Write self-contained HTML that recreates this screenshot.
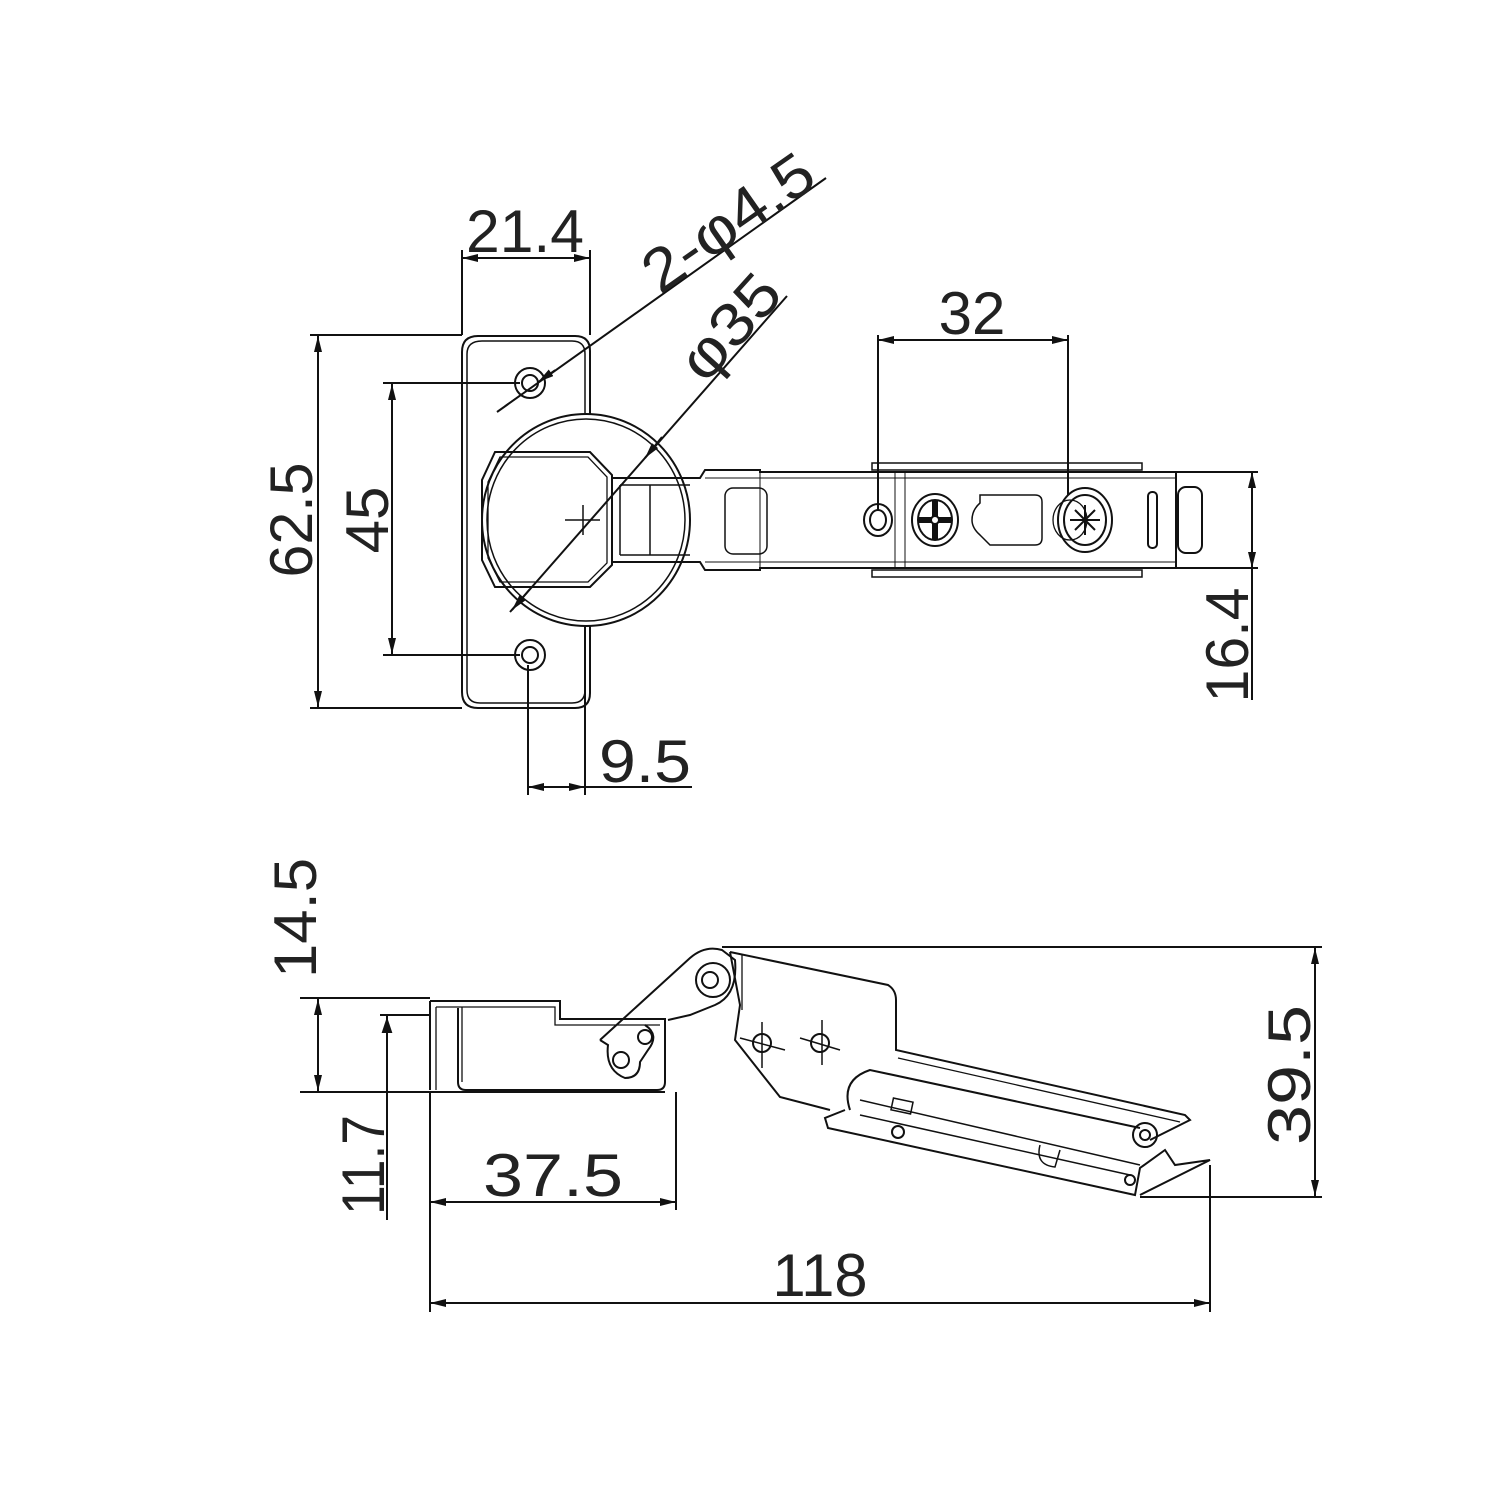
<!DOCTYPE html>
<html><head><meta charset="utf-8"><style>
html,body{margin:0;padding:0;background:#fff;}
svg{display:block;}
text{font-family:"Liberation Sans",sans-serif;fill:#222;font-size:60px;}
</style></head><body>
<svg width="1500" height="1500" viewBox="0 0 1500 1500" xmlns="http://www.w3.org/2000/svg">
<defs>
<marker id="a" viewBox="0 0 12 6" refX="12" refY="3" markerWidth="16" markerHeight="8" orient="auto-start-reverse" markerUnits="userSpaceOnUse"><path d="M0,0 L12,3 L0,6 z" fill="#111"/></marker>
</defs>
<g stroke="#111" stroke-width="2" fill="none">
<!-- TOP VIEW plate -->
<path d="M590,625 V693 Q590,708 575,708 H478 Q462,708 462,692 V352 Q462,336 478,336 H575 Q590,336 590,351 V415"/>
<path d="M585,625 V690 Q585,703 572,703 H480 Q467,703 467,690 V354 Q467,341 482,341 H572 Q585,341 585,354 V415" stroke-width="1.5"/>
<circle cx="530" cy="383" r="15"/><circle cx="530" cy="383" r="8"/>
<circle cx="530" cy="655" r="15"/><circle cx="530" cy="655" r="8"/>
<ellipse cx="586" cy="520" rx="104" ry="106" fill="#fff"/>
<ellipse cx="586" cy="520" rx="99" ry="101" stroke-width="1.5"/>
<path d="M495,452 H590 L612,475 V565 L590,587 H495 L482,560 V480 Z"/>
<path d="M500,457 H588 L607,477 V563 L588,582 H500 L488,558 V482 Z" stroke-width="1.3"/>
<path d="M565,520 H600 M583,505 V535" stroke-width="1.5"/>
<!-- arm -->
<path d="M612,478 H700 L705,470 H760 V472 H1176 V568 H760 V570 H705 L700,562 H612 Z"/>
<path d="M620,485 H690 M620,555 H690 M620,485 V555 M650,485 V555" stroke-width="1.5"/>
<path d="M705,478 H1176 M705,562 H1176 M760,472 V568 M895,472 V568 M905,472 V568" stroke-width="1"/>
<rect x="725" y="488" width="42" height="66" rx="8" stroke-width="1.5"/>
<rect x="872" y="463" width="270" height="7" stroke-width="1.5"/>
<rect x="872" y="570" width="270" height="7" stroke-width="1.5"/>
<rect x="1178" y="487" width="24" height="66" rx="8"/>
<ellipse cx="878" cy="520" rx="14" ry="16"/><ellipse cx="878" cy="520" rx="8" ry="10"/>
<ellipse cx="935" cy="520" rx="23" ry="26"/><ellipse cx="935" cy="520" rx="17" ry="20"/>
<path d="M918,520 H952 M935,500 V540" stroke-width="6"/>
<circle cx="935" cy="520" r="4" fill="#fff"/>
<path d="M980,495 H1035 Q1042,495 1042,502 V538 Q1042,545 1035,545 H990 L980,535 Q972,528 972,520 Q972,510 980,503 Z" stroke-width="1.5"/>
<ellipse cx="1085" cy="520" rx="27" ry="32"/><ellipse cx="1085" cy="520" rx="21" ry="25"/>
<ellipse cx="1070" cy="520" rx="17" ry="20" stroke-width="1.3"/>
<path d="M1070,520 H1100 M1085,505 V535 M1075,510 L1095,530 M1095,510 L1075,530" stroke-width="2"/>
<rect x="1148" y="492" width="9" height="56" rx="4"/>
<!-- dims top -->
<path d="M462,335 V250 M590,335 V250"/>
<line x1="462" y1="258" x2="590" y2="258" marker-start="url(#a)" marker-end="url(#a)"/>
<path d="M310,335 H462 M310,708 H462"/>
<line x1="318" y1="336" x2="318" y2="707" marker-start="url(#a)" marker-end="url(#a)"/>
<path d="M383,383 H520 M383,655 H520"/>
<line x1="392" y1="384" x2="392" y2="654" marker-start="url(#a)" marker-end="url(#a)"/>
<line x1="497" y1="412" x2="826" y2="178"/>
<path d="M505,406 L522,394 M555,370 L538,382" marker-end="url(#a)" stroke-width="1.5"/>
<line x1="510" y1="612" x2="787" y2="296"/>
<line x1="530" y1="589" x2="512" y2="610" marker-end="url(#a)"/>
<line x1="645" y1="458" x2="662" y2="437" marker-start="url(#a)"/>
<path d="M878,335 V510 M1068,335 V495"/>
<line x1="878" y1="340" x2="1068" y2="340" marker-start="url(#a)" marker-end="url(#a)"/>
<path d="M1176,472 H1258 M1176,568 H1258"/>
<line x1="1252" y1="472" x2="1252" y2="568" marker-start="url(#a)" marker-end="url(#a)"/>
<path d="M1252,568 V700"/>
<path d="M528,665 V795 M585,625 V795"/>
<line x1="528" y1="787" x2="585" y2="787" marker-start="url(#a)" marker-end="url(#a)"/>
<path d="M585,787 H692"/>

<!-- BOTTOM VIEW -->
<path d="M430,1001 H560 V1019 H665 V1082 Q665,1090 657,1090 H466 Q458,1090 458,1082 V1008 M430,1001 V1090"/>
<path d="M436,1007 H555 V1025 H660 M436,1007 V1090 M462,1007 V1082" stroke-width="1.3"/>
<path d="M300,998 H430 M300,1092 H665"/>
<line x1="318" y1="999" x2="318" y2="1091" marker-start="url(#a)" marker-end="url(#a)"/>
<path d="M380,1015 H430"/>
<line x1="387" y1="1016" x2="387" y2="1220"/>
<path d="M387,1020 L383,1032 L391,1032 Z" fill="#111"/>
<!-- link -->
<path d="M600,1040 L690,958 Q705,945 722,950 L735,960 Q738,995 715,1005 L690,1015 L668,1020 M600,1040 L608,1045 Q605,1070 625,1078 Q640,1078 640,1062 L648,1050 Q660,1035 645,1025"/>
<circle cx="621" cy="1060" r="8"/><circle cx="645" cy="1037" r="7"/>
<circle cx="713" cy="980" r="17"/><circle cx="710" cy="980" r="8"/>
<!-- arm body -->
<path d="M722,947 H1322"/>
<path d="M730,952 L888,985 Q896,990 896,1000 V1050 L1185,1115 L1190,1120 L1150,1140"/>
<path d="M730,952 L740,1005 L735,1040 L780,1097 L830,1110"/>
<path d="M742,955 V1010" stroke-width="1.3"/>
<path d="M898,1058 L1180,1122" stroke-width="1.3"/>
<path d="M850,1110 Q840,1080 870,1070 L1140,1128"/>
<path d="M845,1110 L825,1118 L828,1128 L1135,1195 L1140,1168 L1165,1150 L1175,1165 L1210,1160 L1140,1195"/>
<path d="M860,1100 L1140,1165 M860,1115 L1130,1175" stroke-width="1.5"/>
<rect x="892" y="1100" width="20" height="12" stroke-width="1.5" transform="rotate(12 902 1106)"/>
<circle cx="898" cy="1132" r="6"/>
<circle cx="1145" cy="1135" r="12"/><circle cx="1145" cy="1135" r="5"/>
<circle cx="1130" cy="1180" r="5"/>
<path d="M1040,1145 Q1035,1165 1055,1167 L1060,1150" stroke-width="1.5"/>
<circle cx="762" cy="1043" r="9"/><circle cx="820" cy="1043" r="9"/>
<path d="M740,1038 L785,1050 M762,1022 V1068 M800,1038 L840,1050 M822,1020 V1065" stroke-width="1.5"/>
<!-- bottom dims -->
<path d="M676,1092 V1210"/>
<line x1="430" y1="1202" x2="676" y2="1202" marker-start="url(#a)" marker-end="url(#a)"/>
<path d="M430,1092 V1312 M1210,1165 V1312"/>
<line x1="430" y1="1303" x2="1210" y2="1303" marker-start="url(#a)" marker-end="url(#a)"/>
<path d="M1140,1197 H1322"/>
<line x1="1315" y1="948" x2="1315" y2="1196" marker-start="url(#a)" marker-end="url(#a)"/>
</g>
<!-- labels -->
<text x="525" y="252" text-anchor="middle" textLength="118" lengthAdjust="spacingAndGlyphs">21.4</text>
<text transform="translate(312,520) rotate(-90)" text-anchor="middle" textLength="115" lengthAdjust="spacingAndGlyphs">62.5</text>
<text transform="translate(388,520) rotate(-90)" text-anchor="middle">45</text>
<text transform="translate(660,295) rotate(-35)" textLength="195" lengthAdjust="spacingAndGlyphs">2-φ4.5</text>
<text transform="translate(705,385) rotate(-48)" textLength="120" lengthAdjust="spacingAndGlyphs">φ35</text>
<text x="972" y="334" text-anchor="middle">32</text>
<text transform="translate(1248,645) rotate(-90)" text-anchor="middle" textLength="115" lengthAdjust="spacingAndGlyphs">16.4</text>
<text x="645" y="782" text-anchor="middle" textLength="92" lengthAdjust="spacingAndGlyphs">9.5</text>
<text transform="translate(316,918) rotate(-90)" text-anchor="middle" textLength="120" lengthAdjust="spacingAndGlyphs">14.5</text>
<text transform="translate(384,1165) rotate(-90)" text-anchor="middle" textLength="100" lengthAdjust="spacingAndGlyphs">11.7</text>
<text x="553" y="1196" text-anchor="middle" textLength="140" lengthAdjust="spacingAndGlyphs">37.5</text>
<text x="820" y="1296" text-anchor="middle" textLength="95" lengthAdjust="spacingAndGlyphs">118</text>
<text transform="translate(1310,1075) rotate(-90)" text-anchor="middle" textLength="140" lengthAdjust="spacingAndGlyphs">39.5</text>
</svg>
</body></html>
